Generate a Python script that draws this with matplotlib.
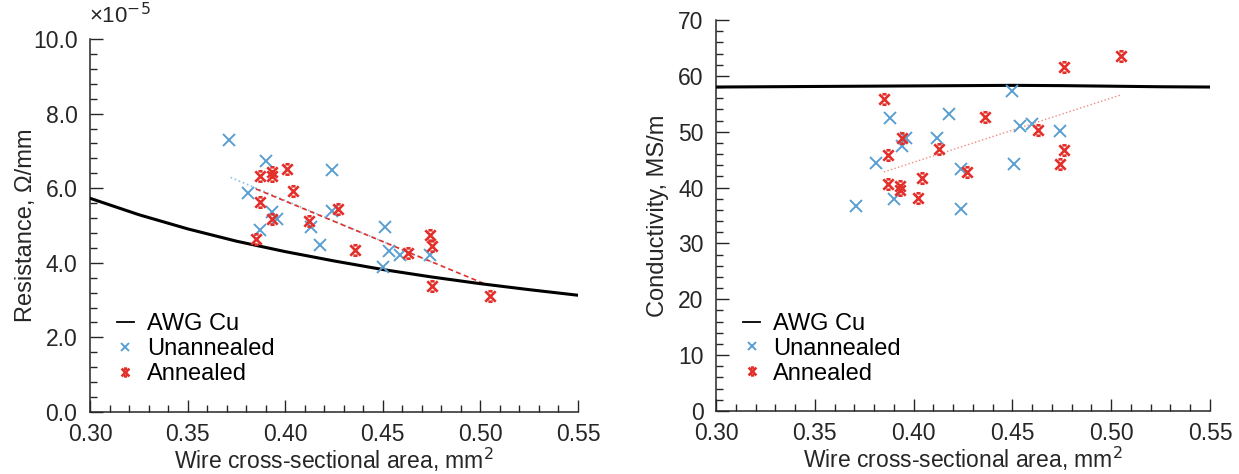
import numpy as np
import matplotlib
import matplotlib.pyplot as plt
from matplotlib.path import Path
from matplotlib.ticker import MultipleLocator, FormatStrFormatter

NARROW = ['Liberation Sans Narrow', 'Liberation Sans', 'DejaVu Sans']
plt.rcParams['font.family'] = NARROW
plt.rcParams['mathtext.fontset'] = 'custom'
plt.rcParams['mathtext.rm'] = 'Liberation Sans Narrow'
plt.rcParams['mathtext.it'] = 'Liberation Sans Narrow'

# ---------------- data ----------------
# AWG copper reference curve
awg_area = [0.300, 0.325, 0.350, 0.375, 0.400, 0.425, 0.450, 0.475, 0.500, 0.525, 0.550]
awg_res = [5.73, 5.29, 4.91, 4.58, 4.30, 4.05, 3.82, 3.62, 3.44, 3.28, 3.13]   # x1e-5 ohm/mm
awg_cond = [58.0, 58.05, 58.1, 58.15, 58.2, 58.25, 58.3, 58.25, 58.15, 58.05, 58.0]  # MS/m

# resistance panel
un_res_area = [0.371, 0.390, 0.424, 0.381, 0.424, 0.393, 0.396, 0.387, 0.413,
               0.451, 0.418, 0.453, 0.459, 0.474, 0.450]
un_res = [7.28, 6.74, 6.50, 5.88, 5.40, 5.36, 5.17, 4.88, 4.96,
          4.97, 4.48, 4.31, 4.22, 4.20, 3.88]
an_res_area = [0.387, 0.393, 0.393, 0.401, 0.404, 0.387, 0.427, 0.393, 0.412,
               0.385, 0.436, 0.463, 0.474, 0.475, 0.475, 0.505]
an_res = [6.34, 6.43, 6.32, 6.52, 5.92, 5.63, 5.43, 5.18, 5.13,
          4.63, 4.35, 4.27, 4.75, 4.46, 3.39, 3.11]
un_res_fit_x = [0.372, 0.475]
un_res_fit_y = [6.29, 4.02]
an_res_fit_x = [0.385, 0.502]
an_res_fit_y = [5.98, 3.44]

# conductivity panel
un_cond_area = [0.371, 0.390, 0.381, 0.388, 0.394, 0.396, 0.412, 0.418, 0.424,
                0.424, 0.450, 0.451, 0.454, 0.460, 0.474]
un_cond = [36.7, 37.9, 44.4, 52.5, 47.5, 48.8, 48.8, 53.2, 43.4,
           36.1, 57.3, 44.3, 51.0, 51.4, 50.2]
an_cond_area = [0.385, 0.387, 0.387, 0.393, 0.393, 0.394, 0.402, 0.404, 0.413,
                0.427, 0.436, 0.463, 0.474, 0.476, 0.476, 0.505]
an_cond = [55.8, 45.8, 40.7, 40.3, 39.5, 48.8, 38.2, 41.8, 46.9,
           42.8, 52.7, 50.3, 44.3, 46.8, 61.6, 63.6]
an_cond_fit_x = [0.385, 0.505]
an_cond_fit_y = [42.8, 56.6]

BLUE = '#5a9fd2'
RED = '#e2302b'
TXT = '#262626'

# annealed marker: an x with short caps
star_x = Path([(-1, -1), (1, 1), (-1, 1), (1, -1),
               (-0.4, 1), (0.4, 1), (-0.4, -1), (0.4, -1)],
              [Path.MOVETO, Path.LINETO] * 4)

fig = plt.figure(figsize=(12.39, 4.74), dpi=100)
ax1 = fig.add_axes([90 / 1239, 62 / 474, 488 / 1239, 373 / 474])
ax2 = fig.add_axes([716 / 1239, 63 / 474, 494 / 1239, 391 / 474])


def style(ax, ymax, ymajor, yminor, fmt):
    ax.set_xlim(0.30, 0.55)
    ax.set_ylim(0, ymax)
    for s in ['top', 'right']:
        ax.spines[s].set_visible(False)
    for s in ['left', 'bottom']:
        ax.spines[s].set_linewidth(1.1)
        ax.spines[s].set_color(TXT)
    ax.xaxis.set_major_locator(MultipleLocator(0.05))
    ax.xaxis.set_minor_locator(MultipleLocator(0.01))
    ax.yaxis.set_major_locator(MultipleLocator(ymajor))
    ax.yaxis.set_minor_locator(MultipleLocator(yminor))
    ax.xaxis.set_major_formatter(FormatStrFormatter('%.2f'))
    ax.yaxis.set_major_formatter(FormatStrFormatter(fmt))
    ax.tick_params(which='both', direction='in', colors=TXT, labelsize=16.5, width=1.0)
    ax.tick_params(which='major', length=9)
    ax.tick_params(which='minor', length=5)
    ax.tick_params(axis='y', pad=9)
    ax.tick_params(axis='x', pad=8)
    ax.set_xlabel('Wire cross-sectional area, mm$^2$', fontsize=16.5, color=TXT, labelpad=0)


def add_legend(ax, yanchor):
    leg = ax.legend(loc='upper left', bbox_to_anchor=(0.035, yanchor), frameon=False,
                    fontsize=17, handlelength=0.75, handletextpad=0.55, labelspacing=0.12,
                    borderaxespad=0, markerscale=0.75)
    leg.get_lines()[0].set_linewidth(1.3)


# ---------------- left: resistance ----------------
ax1.plot(awg_area, awg_res, color='black', lw=2.2, label='AWG Cu', zorder=3)
ax1.plot(un_res_area, un_res, ls='none', marker='x', ms=8, mew=1.4, color=BLUE, label='Unannealed', zorder=4)
ax1.plot(an_res_area, an_res, ls='none', marker=star_x, ms=7.5, mew=1.9, color=RED, label='Annealed', zorder=5)
ax1.plot(un_res_fit_x, un_res_fit_y, ls=':', lw=1.2, color='#8cc3e0', zorder=2)
ax1.plot(an_res_fit_x, an_res_fit_y, ls='--', lw=1.2, color=RED, dashes=(3, 2), zorder=2)
style(ax1, 10, 2, 0.4, '%.1f')
ax1.set_ylabel('Resistance, \u03a9/mm', fontsize=17, color=TXT, family='Liberation Sans')
ax1.yaxis.set_label_coords(-0.108, 0.5)
ax1.text(-0.003, 1.028, '\u00d710$^{-5}$', transform=ax1.transAxes, fontsize=16,
         color=TXT, ha='left', va='bottom')
add_legend(ax1, 0.29)

# ---------------- right: conductivity ----------------
ax2.plot(awg_area, awg_cond, color='black', lw=2.2, label='AWG Cu', zorder=3)
ax2.plot(un_cond_area, un_cond, ls='none', marker='x', ms=8, mew=1.4, color=BLUE, label='Unannealed', zorder=4)
ax2.plot(an_cond_area, an_cond, ls='none', marker=star_x, ms=7.5, mew=1.9, color=RED, label='Annealed', zorder=5)
ax2.plot(an_cond_fit_x, an_cond_fit_y, ls=':', lw=1.0, color='#f08a80', zorder=2)
style(ax2, 70, 10, 2, '%d')
ax2.set_ylabel('Conductivity, MS/m', fontsize=17, color=TXT, family='Liberation Sans')
ax2.yaxis.set_label_coords(-0.095, 0.5)
add_legend(ax2, 0.275)

fig.savefig('out.png', dpi=100)
